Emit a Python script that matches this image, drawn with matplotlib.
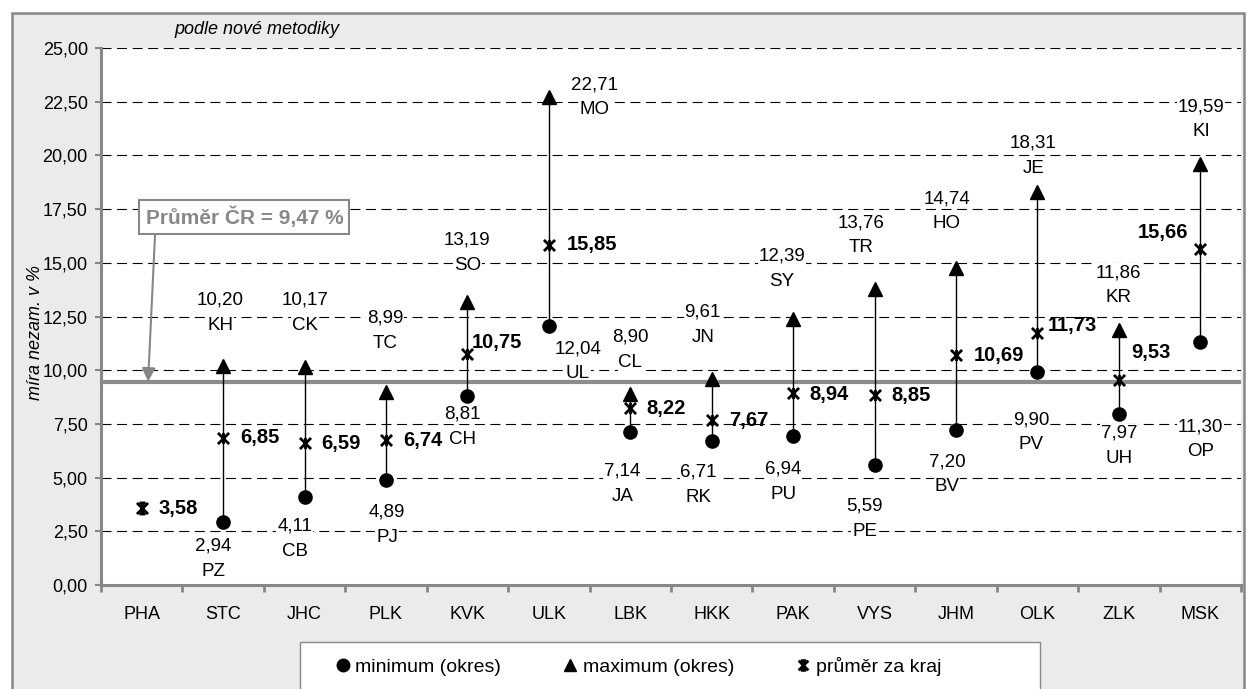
import numpy as np
import matplotlib.pyplot as plt
from matplotlib.path import Path
from matplotlib.patches import Rectangle
from matplotlib.lines import Line2D

# ------------------------------------------------------------------
# DATA
# ------------------------------------------------------------------
regions = ["PHA", "STC", "JHC", "PLK", "KVK", "ULK", "LBK",
           "HKK", "PAK", "VYS", "JHM", "OLK", "ZLK", "MSK"]
min_vals = [np.nan, 2.94, 4.11, 4.89, 8.81, 12.04, 7.14,
            6.71, 6.94, 5.59, 7.20, 9.90, 7.97, 11.30]
min_codes = ["", "PZ", "CB", "PJ", "CH", "UL", "JA",
             "RK", "PU", "PE", "BV", "PV", "UH", "OP"]
max_vals = [np.nan, 10.20, 10.17, 8.99, 13.19, 22.71, 8.90,
            9.61, 12.39, 13.76, 14.74, 18.31, 11.86, 19.59]
max_codes = ["", "KH", "CK", "TC", "SO", "MO", "CL",
             "JN", "SY", "TR", "HO", "JE", "KR", "KI"]
avg_vals = [3.58, 6.85, 6.59, 6.74, 10.75, 15.85, 8.22,
            7.67, 8.94, 8.85, 10.69, 11.73, 9.53, 15.66]
cr_avg = 9.47
y_ticks = [0, 2.5, 5, 7.5, 10, 12.5, 15, 17.5, 20, 22.5, 25]

# label placement (pixel offsets from the marker, manual like in the source)
max_off = [None, (-3, 53), (0, 54), (-1, 61), (0, 49), (46, 0), (0, 44),
           (-9, 54), (-11, 50), (-14, 54), (-9, 57), (-4, 36), (0, 45), (1, 45)]
min_off = [None, (-10, -37), (-10, -42), (1, -45), (-5, -31), (29, -35), (-8, -52),
           (-13, -44), (-10, -46), (-10, -54), (-9, -44), (-6, -60), (0, -32), (0, -97)]
avg_off = [(17, 0), (17, 0), (17, 0), (17, 0), (4, 12), (18, 0), (16, 0),
           (17, 0), (16, -2), (17, -1), (18, 0), (10, 8), (12, 28), (-12, 16)]
avg_ha = ["left"] * 13 + ["right"]


def cz(v):
    return f"{v:.2f}".replace(".", ",")


# ------------------------------------------------------------------
# STYLE
# ------------------------------------------------------------------
plt.rcParams["font.family"] = ["Liberation Sans", "DejaVu Sans"]
GRAY = "#878787"
W, H = 1254, 689

fig = plt.figure(figsize=(W / 100, H / 100), dpi=100)
fig.patch.set_facecolor("white")

# outer chart frame
fig.patches.append(Rectangle((11.5 / W, 1 - 700 / H), (1243.5 - 11.5) / W, (700 - 12.5) / H,
                             transform=fig.transFigure, facecolor="#ebebeb",
                             edgecolor=GRAY, lw=1.8, zorder=-2))
# legend frame
fig.patches.append(Rectangle((300 / W, 1 - 700 / H), 740 / W, (700 - 642) / H,
                             transform=fig.transFigure, facecolor="white",
                             edgecolor=GRAY, lw=1.0, zorder=-1))

ax = fig.add_axes([101 / W, 1 - 585 / H, (1241 - 101) / W, (585 - 48) / H])
ax.set_facecolor("white")
ax.set_xlim(-0.5, len(regions) - 0.5)
ax.set_ylim(0, 25)

ax.set_yticks(y_ticks)
ax.set_yticklabels([cz(v) for v in y_ticks], fontsize=13)
ax.yaxis.grid(True, color="black", lw=0.8, linestyle=(0, (9, 5)))
ax.set_axisbelow(True)

x = np.arange(len(regions))
ax.set_xticks(x)
ax.set_xticklabels(regions, fontsize=13)
ax.set_xticks(np.arange(-0.5, len(regions), 1), minor=True)
ax.tick_params(axis="x", which="major", length=0, pad=15)
ax.tick_params(axis="x", which="minor", length=5, width=2, color=GRAY)
ax.tick_params(axis="y", length=4.5, width=1.5, color=GRAY, pad=5)

for s in ["top", "right"]:
    ax.spines[s].set_visible(False)
for s in ["left", "bottom"]:
    ax.spines[s].set_color(GRAY)
    ax.spines[s].set_linewidth(2.2)

# ------------------------------------------------------------------
# MARKS
# ------------------------------------------------------------------
mins = np.array(min_vals)
maxs = np.array(max_vals)
avgs = np.array(avg_vals)
has_range = ~np.isnan(mins)

star = Path([(-1, -1), (1, 1), (-1, 1), (1, -1), (0, -1), (0, 1)],
            [Path.MOVETO, Path.LINETO, Path.MOVETO, Path.LINETO, Path.MOVETO, Path.LINETO])
star_bar = Path([(-1, -1), (1, 1), (-1, 1), (1, -1), (0, -1), (0, 1),
                 (-0.55, 1), (0.55, 1), (-0.55, -1), (0.55, -1)],
                [Path.MOVETO, Path.LINETO] * 5)

ax.axhline(cr_avg, color="#8c8c8c", lw=3, zorder=3)
ax.vlines(x[has_range], mins[has_range], maxs[has_range], color="black", lw=1, zorder=4)
ax.plot(x, mins, "o", ms=9.5, color="black", ls="none", zorder=5)
ax.plot(x, maxs, "^", ms=9.5, color="black", ls="none", zorder=5)
ax.plot(x[has_range], avgs[has_range], marker=star, ms=8, mew=2, color="black",
        mfc="none", ls="none", zorder=5)
ax.plot(x[~has_range], avgs[~has_range], marker=star_bar, ms=8, mew=2, color="black",
        mfc="none", ls="none", zorder=5)

box = dict(facecolor="white", edgecolor="none", pad=0.5)
for i in range(len(regions)):
    if has_range[i]:
        for val, code, off in [(maxs[i], max_codes[i], max_off[i]),
                               (mins[i], min_codes[i], min_off[i])]:
            ax.annotate(cz(val), (x[i], val), xytext=(off[0], off[1] + 12.5),
                        textcoords="offset pixels", ha="center", va="center",
                        fontsize=13.5, bbox=box, zorder=2.5)
            ax.annotate(code, (x[i], val), xytext=(off[0], off[1] - 12.5),
                        textcoords="offset pixels", ha="center", va="center",
                        fontsize=13.5, bbox=box, zorder=2.5)
    ax.annotate(cz(avgs[i]), (x[i], avgs[i]), xytext=avg_off[i],
                textcoords="offset pixels", ha=avg_ha[i], va="center",
                fontsize=14.5, fontweight="bold", zorder=6)

# Czech average call-out
ax.annotate(f"Průměr ČR = {cz(cr_avg)} %", xy=(0.078, cr_avg), xytext=(1.26, 17.13),
            ha="center", va="center", fontsize=15, fontweight="bold", color="#888888",
            bbox=dict(boxstyle="square,pad=0.3", facecolor="white", edgecolor=GRAY, lw=1.5),
            arrowprops=dict(arrowstyle="-|>", color=GRAY, lw=1.5, mutation_scale=20,
                            relpos=(0.05, 0), shrinkA=0, shrinkB=0),
            zorder=7)

# texts outside plot area
fig.text(257 / W, 1 - 30 / H, "podle nové metodiky", ha="center", va="center",
         fontsize=13, style="italic")
fig.text(36 / W, 1 - 332 / H, "míra nezam. v %", ha="center", va="center",
         fontsize=13, style="italic", rotation=90)

# legend
handles = [Line2D([], [], marker="o", color="black", ls="none", ms=9),
           Line2D([], [], marker="^", color="black", ls="none", ms=9),
           Line2D([], [], marker=star_bar, color="black", mfc="none", ls="none", ms=7, mew=2)]
labels = ["minimum (okres)", "maximum (okres)", "průměr za kraj"]
leg = fig.legend(handles, labels, loc="center left", ncol=3, frameon=False,
                 bbox_to_anchor=(336 / W, 1 - 666 / H), fontsize=14,
                 handlelength=0.7, handletextpad=0.3, columnspacing=3.2,
                 borderaxespad=0, borderpad=0)
leg.set_zorder(5)

fig.savefig("out.png", dpi=100)
